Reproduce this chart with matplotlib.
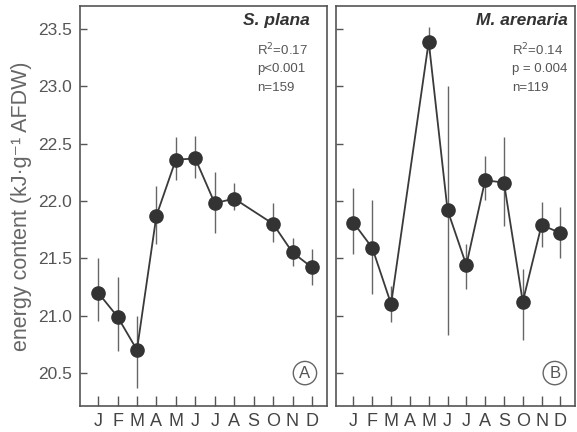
import numpy as np
import matplotlib
matplotlib.use("Agg")
import matplotlib.pyplot as plt

plt.rcParams['font.family'] = ['Liberation Sans', 'DejaVu Sans']

months = ["J", "F", "M", "A", "M", "J", "J", "A", "S", "O", "N", "D"]

# S. plana (no September sample)
sp_month = [1, 2, 3, 4, 5, 6, 7, 8, 10, 11, 12]
sp_mean = [21.20, 20.99, 20.70, 21.87, 22.36, 22.37, 21.98, 22.02, 21.80, 21.55, 21.42]
sp_low = [20.95, 20.69, 20.37, 21.62, 22.18, 22.20, 21.72, 21.92, 21.64, 21.43, 21.27]
sp_high = [21.50, 21.34, 21.00, 22.13, 22.56, 22.57, 22.25, 22.16, 21.98, 21.68, 21.58]

# M. arenaria (no April sample)
ma_month = [1, 2, 3, 5, 6, 7, 8, 9, 10, 11, 12]
ma_mean = [21.81, 21.59, 21.10, 23.39, 21.92, 21.44, 22.18, 22.16, 21.12, 21.79, 21.72]
ma_low = [21.54, 21.19, 20.94, 23.29, 20.83, 21.23, 22.01, 21.78, 20.79, 21.60, 21.50]
ma_high = [22.11, 22.01, 21.26, 23.52, 23.00, 21.62, 22.39, 22.56, 21.41, 21.99, 21.95]

panels = [
    ("S. plana", ["R$^2$=0.17", "p<0.001", "n=159"], "A", sp_month, sp_mean, sp_low, sp_high),
    ("M. arenaria", ["R$^2$=0.14", "p = 0.004", "n=119"], "B", ma_month, ma_mean, ma_low, ma_high),
]
# text placement per panel (axes fraction): title right edge, stats left edge, circle letter x
place = [(0.931, 0.717, 0.911), (0.971, 0.736, 0.916)]

fig = plt.figure(figsize=(5.77, 4.32), dpi=100)
ax1 = fig.add_axes([0.1386, 0.060, 0.428, 0.926])
ax2 = fig.add_axes([0.5823, 0.060, 0.414, 0.926])

dark = "#3a3a3a"
for ax, (name, stats, letter, m, mean, lo, hi), (tx, sx, lx) in zip([ax1, ax2], panels, place):
    m = np.array(m)
    mean = np.array(mean)
    yerr = [mean - np.array(lo), np.array(hi) - mean]
    ax.errorbar(m, mean, yerr=yerr, fmt="-o", color=dark, ecolor="#666666",
                elinewidth=1.0, capsize=0, lw=1.3, ms=9.5, mfc="#333333", mec="#333333")
    ax.set_xlim(0.07, 12.77)
    ax.set_ylim(20.21, 23.70)
    ax.set_xticks(range(1, 13))
    ax.set_xticklabels(months, fontsize=13, color="#444444")
    ax.set_yticks([20.5, 21.0, 21.5, 22.0, 22.5, 23.0, 23.5])
    ax.tick_params(axis="x", direction="in", length=7, width=1, color="#555555", pad=5)
    ax.tick_params(axis="y", direction="in", length=5, width=1, color="#555555")
    for sp in ax.spines.values():
        sp.set_color("#555555")
        sp.set_linewidth(1.2)
    ax.text(tx, 0.963, name, transform=ax.transAxes, ha="right", va="center",
            fontsize=12.5, fontweight="bold", fontstyle="italic", color="#333333")
    for i, s in enumerate(stats):
        ax.text(sx, 0.89 - i * 0.0475, s, transform=ax.transAxes, ha="left", va="center",
                fontsize=9.5, color="#555555")
    ax.text(lx, 0.0825, letter, transform=ax.transAxes, ha="center", va="center",
            fontsize=12, color="#555555",
            bbox=dict(boxstyle="circle,pad=0.25", fc="white", ec="#666666", lw=1))

ax1.set_yticklabels(["20.5", "21.0", "21.5", "22.0", "22.5", "23.0", "23.5"],
                    fontsize=12.5, color="#555555")
ax1.tick_params(axis="y", pad=6)
ax2.set_yticklabels([])
ax1.set_ylabel("energy content (kJ·g⁻¹ AFDW)", fontsize=15.5, color="#666666", labelpad=2)
ax1.yaxis.set_label_coords(-0.195, 0.5)

fig.savefig("out.png", dpi=100)
